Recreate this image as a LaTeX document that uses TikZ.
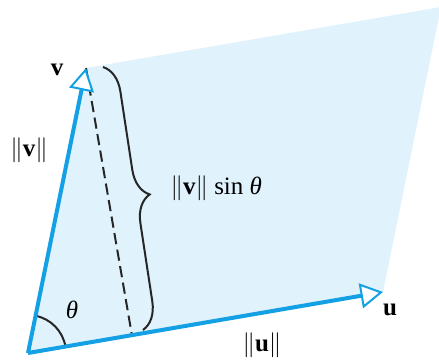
\documentclass[tikz,border=0pt]{standalone}
\usepackage{fontspec}
\setmainfont{Liberation Serif}
\usetikzlibrary{arrows.meta,decorations.pathreplacing}
\definecolor{vecblue}{RGB}{20,160,228}
\definecolor{areablue}{RGB}{224,242,252}
\begin{document}
\begin{tikzpicture}[x=0.4pt,y=0.4pt,
  vec/.style={draw=vecblue,line width=1.6pt,
    -{Triangle[length=9pt,width=10pt,fill=white,line width=0.8pt]}},
  lbl/.style={inner sep=0pt,font=\fontsize{10}{12}\selectfont},
  thinline/.style={line width=0.8pt,black!85}]
\useasboundingbox (0,0) rectangle (439,361);
\coordinate (O) at (28,8);
\coordinate (U) at (383,69);
\coordinate (V) at (86,293);
\coordinate (W) at (441,354);
\coordinate (F) at (131.9,25.9);
\coordinate (B1) at (103,294);
\coordinate (B2) at (143,31);
\fill[areablue] (O) -- (U) -- (W) -- (V) -- cycle;
\draw[thinline,dash pattern=on 4.5pt off 2.2pt] (V) -- (F);
\draw[thinline,decorate,decoration={brace,amplitude=10.8pt}] (B1) -- (B2);
\draw[thinline] ([shift={(9.75:38)}]O) arc[start angle=9.75,end angle=78.5,radius=38];
\draw[vec] (O) -- (U);
\draw[vec] (O) -- (V);
\node[lbl] (lv) at (57,291) {\textbf{v}};
\node[lbl] (lnv) at (29,211) {$\|$\textbf{v}$\|$};
\node[lbl] (lu) at (390,51) {\textbf{u}};
\node[lbl] (lnu) at (262,16) {$\|$\textbf{u}$\|$};
\node[lbl] (lth) at (72,51) {\textit{θ}};
\node[lbl,anchor=west] (ls) at (170,173) {$\|$\textbf{v}$\|$ sin \textit{θ}};
\end{tikzpicture}
\end{document}
